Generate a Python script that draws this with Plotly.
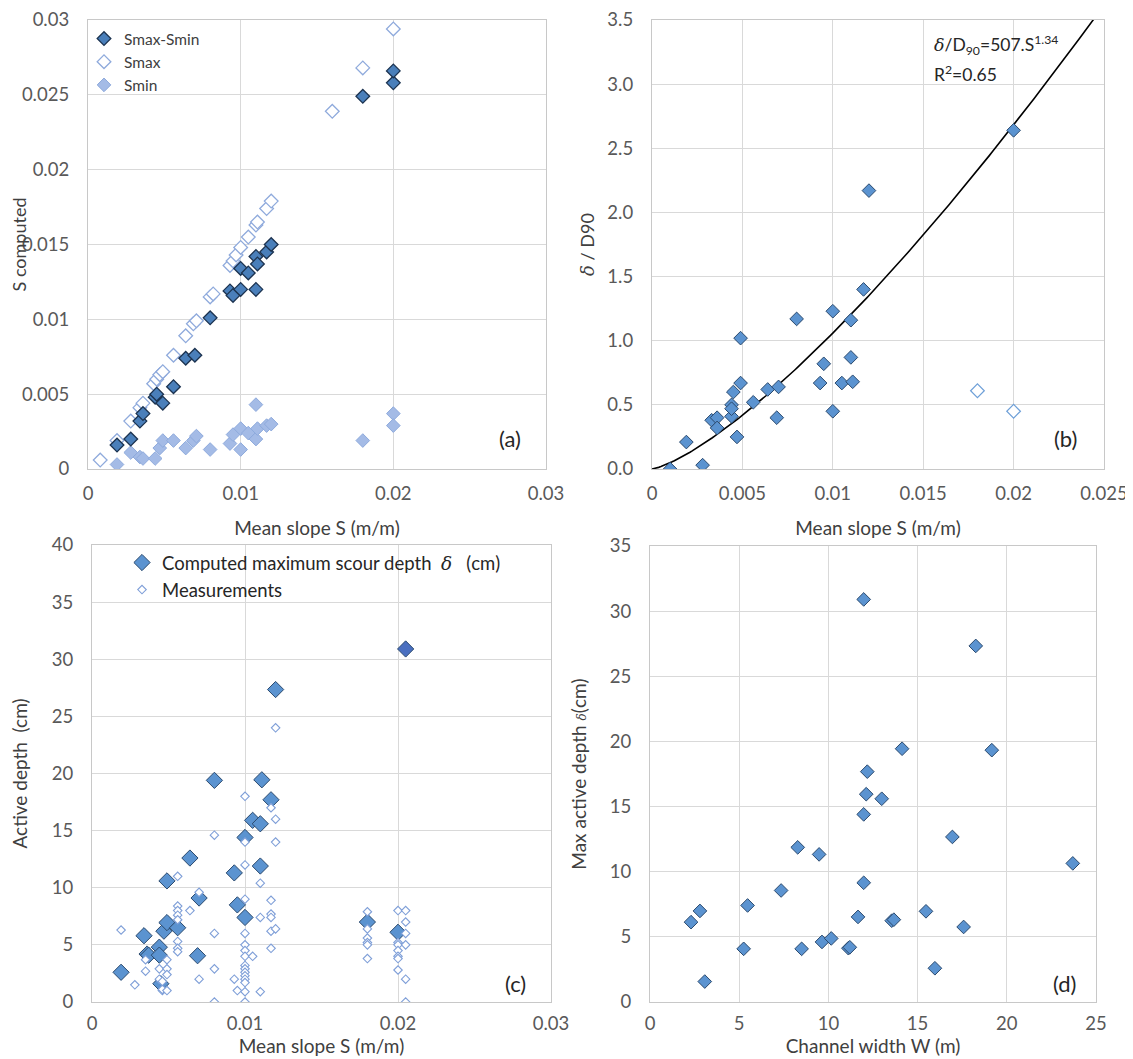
import numpy as np
import plotly.graph_objects as go

# ---------------- Panel (a) ----------------
a_x_diff = [0.0019, 0.0028, 0.0034, 0.0036, 0.0044, 0.0045, 0.0049, 0.0056, 0.0064, 0.0070,
            0.0080, 0.0093, 0.0095, 0.0100, 0.0100, 0.0105, 0.0110, 0.0110, 0.0111, 0.0117,
            0.0120, 0.0180, 0.0200, 0.0200]
a_y_diff = [0.0016, 0.0020, 0.0032, 0.0037, 0.0048, 0.0050, 0.0044, 0.0055, 0.0074, 0.0076,
            0.0101, 0.0119, 0.0116, 0.0120, 0.0134, 0.0131, 0.0120, 0.0142, 0.0137, 0.0145,
            0.0150, 0.0249, 0.0258, 0.0266]
a_x_max = [0.0008, 0.0019, 0.0028, 0.0034, 0.0036, 0.0043, 0.0045, 0.0047, 0.0049, 0.0056,
           0.0064, 0.0069, 0.0071, 0.0080, 0.0082, 0.0093, 0.0095, 0.0097, 0.0100, 0.0105,
           0.0110, 0.0111, 0.0117, 0.0120, 0.0160, 0.0180, 0.0200]
a_y_max = [0.0006, 0.0019, 0.0032, 0.0041, 0.0044, 0.0057, 0.0060, 0.0063, 0.0065, 0.0076,
           0.0089, 0.0097, 0.0099, 0.0115, 0.0117, 0.0136, 0.0139, 0.0143, 0.0148, 0.0155,
           0.0163, 0.0165, 0.0174, 0.0179, 0.0239, 0.0268, 0.0294]
a_x_min = [0.0019, 0.0028, 0.0034, 0.0036, 0.0044, 0.0047, 0.0049, 0.0056, 0.0064, 0.0069,
           0.0071, 0.0080, 0.0093, 0.0095, 0.0100, 0.0100, 0.0105, 0.0110, 0.0110, 0.0111,
           0.0117, 0.0120, 0.0180, 0.0200, 0.0200]
a_y_min = [0.0003, 0.0011, 0.0008, 0.0007, 0.0007, 0.0014, 0.0019, 0.0019, 0.0014, 0.0019,
           0.0022, 0.0013, 0.0017, 0.0023, 0.0013, 0.0027, 0.0024, 0.0020, 0.0043, 0.0027,
           0.0029, 0.0030, 0.0019, 0.0037, 0.0029]

# ---------------- Panel (b) ----------------
b_x = [0.0010, 0.0019, 0.0028, 0.0033, 0.0036, 0.0036, 0.0044, 0.0044, 0.0044, 0.0045,
       0.0047, 0.0049, 0.0049, 0.0056, 0.0064, 0.0069, 0.0070, 0.0080, 0.0093, 0.0095,
       0.0100, 0.0100, 0.0105, 0.0110, 0.0110, 0.0111, 0.0117, 0.0120, 0.0200]
b_y = [0.00, 0.21, 0.03, 0.38, 0.40, 0.32, 0.41, 0.50, 0.47, 0.60,
       0.25, 1.02, 0.67, 0.52, 0.62, 0.40, 0.64, 1.17, 0.67, 0.82,
       1.23, 0.45, 0.67, 1.16, 0.87, 0.68, 1.40, 2.17, 2.64]
b_x_out = [0.0180, 0.0200]
b_y_out = [0.61, 0.45]
# power-law trendline printed on the chart: delta/D90 = 507 * S^1.34
fit_coef = 507.0
fit_exp = 1.34
fit_s_max = 0.0246

# ---------------- Panel (c) ----------------
c_x_comp = [0.0019, 0.0034, 0.0036, 0.0037, 0.0044, 0.0044, 0.0045, 0.0047, 0.0049, 0.0049,
            0.0056, 0.0064, 0.0069, 0.0070, 0.0080, 0.0093, 0.0095, 0.0100, 0.0100, 0.0105,
            0.0110, 0.0110, 0.0111, 0.0117, 0.0120, 0.0180, 0.0200, 0.0205]
c_y_comp = [2.6, 5.8, 4.2, 4.1, 4.8, 4.1, 1.6, 6.2, 10.6, 6.95,
            6.5, 12.6, 4.05, 9.1, 19.4, 11.3, 8.5, 14.4, 7.4, 15.9,
            15.6, 11.9, 19.45, 17.7, 27.35, 7.0, 6.1, 30.9]
c_x_meas = ([0.0019, 0.0028, 0.0035, 0.0035, 0.0044, 0.0044, 0.0046, 0.0046, 0.0046,
             0.0049, 0.0049, 0.0049, 0.0049]
            + [0.0056] * 8 + [0.0064, 0.0070, 0.0070] + [0.0080] * 4 + [0.0093, 0.0095]
            + [0.0100] * 16 + [0.0105] + [0.0110] * 3 + [0.0117] * 6 + [0.0120] * 4
            + [0.0180] * 6 + [0.0200] * 7 + [0.0205] * 6)
c_y_meas = ([6.3, 1.5, 3.7, 2.7, 2.9, 2.0, 1.0, 1.1, 1.8,
             3.7, 2.9, 2.4, 1.0]
            + [11.0, 8.4, 8.0, 7.6, 7.2, 5.3, 4.7, 4.4] + [8.0, 9.6, 2.0] + [14.6, 6.0, 2.9, 0.0]
            + [2.0, 1.0]
            + [18.0, 14.0, 12.0, 9.0, 6.0, 5.0, 4.5, 4.0, 3.2, 2.9, 2.6, 2.3, 2.0, 1.7, 0.9, 0.0]
            + [4.0] + [10.4, 7.4, 0.9] + [17.0, 8.9, 7.7, 7.4, 6.2, 4.7] + [24.0, 16.0, 14.0, 6.4]
            + [7.9, 6.4, 5.6, 5.2, 5.0, 3.8] + [8.0, 5.2, 5.0, 4.5, 4.0, 3.8, 2.8]
            + [8.0, 7.0, 6.0, 5.0, 2.0, 0.0])

# ---------------- Panel (d) ----------------
d_w = [2.3, 2.8, 3.07, 5.25, 5.47, 7.35, 8.28, 8.5, 9.48, 9.64,
       10.16, 11.12, 11.2, 11.66, 11.98, 11.98, 11.98, 12.12, 12.18, 12.99,
       13.55, 13.67, 14.13, 15.47, 15.97, 16.95, 17.58, 18.26, 19.16, 23.7]
d_depth = [6.13, 6.99, 1.57, 4.08, 7.41, 8.56, 11.87, 4.08, 11.33, 4.61,
           4.88, 4.13, 4.2, 6.53, 30.9, 9.15, 14.4, 15.95, 17.68, 15.6,
           6.24, 6.32, 19.44, 6.96, 2.59, 12.67, 5.76, 27.33, 19.33, 10.64]

FONT = "Lato"
TICK_COL = "#595959"
TITLE_COL = "#404040"
GRID = "#d9d9d9"
DELTA = "<span style='font-family:DejaVu Serif'><i>δ</i></span>"

fig = go.Figure()

# Panel a traces (dark series drawn last so it sits on top)
fig.add_trace(go.Scatter(x=a_x_max, y=a_y_max, mode="markers", name="Smax", legendrank=2,
                         marker=dict(symbol="diamond", size=10.5, color="white",
                                     line=dict(color="#8faadc", width=1.3)),
                         xaxis="x", yaxis="y", legend="legend"))
fig.add_trace(go.Scatter(x=a_x_min, y=a_y_min, mode="markers", name="Smin", legendrank=3,
                         marker=dict(symbol="diamond", size=10.5, color="#a4bbe6",
                                     line=dict(color="#8eaadc", width=1)),
                         xaxis="x", yaxis="y", legend="legend"))
fig.add_trace(go.Scatter(x=a_x_diff, y=a_y_diff, mode="markers", name="Smax-Smin", legendrank=1,
                         marker=dict(symbol="diamond", size=10.5, color="#4a7fba",
                                     line=dict(color="#1c3350", width=1.3)),
                         xaxis="x", yaxis="y", legend="legend"))

# Panel b traces
s_fit = np.linspace(0, fit_s_max, 200)
fig.add_trace(go.Scatter(x=s_fit, y=fit_coef * s_fit ** fit_exp, mode="lines",
                         line=dict(color="black", width=1.6), showlegend=False,
                         xaxis="x2", yaxis="y2"))
fig.add_trace(go.Scatter(x=b_x, y=b_y, mode="markers", showlegend=False,
                         marker=dict(symbol="diamond", size=10.5, color="#5b93d0",
                                     line=dict(color="#2b4a6e", width=1)),
                         xaxis="x2", yaxis="y2"))
fig.add_trace(go.Scatter(x=b_x_out, y=b_y_out, mode="markers", showlegend=False,
                         marker=dict(symbol="diamond", size=10.5, color="white",
                                     line=dict(color="#6fa0d8", width=1.2)),
                         xaxis="x2", yaxis="y2"))

# Panel c traces
c_colors = ["#5b93d0"] * (len(c_x_comp) - 1) + ["#4a6fc0"]
fig.add_trace(go.Scatter(x=c_x_comp, y=c_y_comp, mode="markers",
                         name="Computed maximum scour depth\u00a0\u00a0" + DELTA + "\u00a0\u00a0\u00a0(cm)",
                         marker=dict(symbol="diamond", size=12.5, color=c_colors,
                                     line=dict(color="#2b4a6e", width=1)),
                         xaxis="x3", yaxis="y3", legend="legend2"))
fig.add_trace(go.Scatter(x=c_x_meas, y=c_y_meas, mode="markers", name="Measurements",
                         marker=dict(symbol="diamond", size=6.5, color="white",
                                     line=dict(color="#7f9fd8", width=1.1)),
                         xaxis="x3", yaxis="y3", legend="legend2"))

# Panel d traces
fig.add_trace(go.Scatter(x=d_w, y=d_depth, mode="markers", showlegend=False,
                         marker=dict(symbol="diamond", size=10.5, color="#5b93d0",
                                     line=dict(color="#2b4a6e", width=1)),
                         xaxis="x4", yaxis="y4"))

# The page places the figure 8 px in from the window's top-left corner,
# so the figure is sized to the visible area and positions are shifted.
OFF = 8
W, H = 1133 - OFF, 1059 - OFF


def px(x):
    return (x - OFF) / W


def py(y):
    return 1 - (y - OFF) / H


def xd(l, r):
    return [px(l), px(r)]


def yd(t, b):
    return [py(b), py(t)]


def ax(domain, anchor, rng, dtick, title, standoff, label_gap, title_size=19, tickformat=None):
    d = dict(domain=domain, anchor=anchor, range=rng, dtick=dtick, tick0=0,
             automargin=False,
             showgrid=True, gridcolor=GRID, gridwidth=1,
             showline=True, linecolor="#c8c8c8", linewidth=1.2, mirror=True,
             zeroline=False, ticks="", ticklen=0,
             ticklabelstandoff=label_gap, ticklabeloverflow="allow",
             tickfont=dict(family=FONT, size=18.5, color=TICK_COL),
             title=dict(text=title, standoff=standoff,
                        font=dict(family=FONT, size=title_size, color=TITLE_COL)))
    if tickformat:
        d["tickformat"] = tickformat
    return d


fig.update_layout(
    width=W, height=H,
    margin=dict(l=0, r=0, t=0, b=0, autoexpand=False),
    paper_bgcolor="white", plot_bgcolor="white",
    font=dict(family=FONT, color=TITLE_COL),
    xaxis=ax(xd(88, 546), "y", [0, 0.03], 0.01, "Mean slope S (m/m)", 18, 8),
    yaxis=ax(yd(20, 469), "x", [0, 0.03], 0.005, "S computed", 5, 14, title_size=18),
    xaxis2=ax(xd(652, 1104), "y2", [0, 0.0250001], 0.005, "Mean slope S (m/m)", 18, 8),
    yaxis2=ax(yd(20, 469), "x2", [0, 3.5], 0.5, DELTA + " / D90", 8, 14, title_size=18,
              tickformat=".1f"),
    xaxis3=ax(xd(92, 551), "y3", [0, 0.03], 0.01, "Mean slope S (m/m)", 6, 5),
    yaxis3=ax(yd(545, 1002), "x3", [0, 40], 5, "Active depth\u00a0\u00a0(cm)", 20, 14),
    xaxis4=ax(xd(650, 1096), "y4", [0, 25], 5, "Channel width W (m)", 6, 5),
    yaxis4=ax(yd(546, 1002), "x4", [0, 35], 5,
              "Max active depth <span style='font-size:12px;font-family:DejaVu Serif'><i>δ</i></span>(cm)",
              18, 14),
    legend=dict(x=px(84), y=py(22), xanchor="left", yanchor="top",
                bgcolor="rgba(0,0,0,0)", font=dict(family=FONT, size=15.5, color="#404040"),
                tracegroupgap=0, itemwidth=30, traceorder="normal"),
    legend2=dict(x=px(122), y=py(544), xanchor="left", yanchor="top",
                 bgcolor="rgba(0,0,0,0)", font=dict(family=FONT, size=18.5, color="#262626"),
                 tracegroupgap=0, itemwidth=30),
    hovermode=False,
    showlegend=True,
)

annots = [
    dict(text="(a)", x=510, y=438),
    dict(text="(b)", x=1065, y=438),
    dict(text="(c)", x=515, y=983),
    dict(text="(d)", x=1064, y=983),
]
for a in annots:
    fig.add_annotation(xref="paper", yref="paper", x=px(a["x"]), y=py(a["y"]), text=a["text"],
                       showarrow=False, xanchor="center", yanchor="middle",
                       font=dict(family=FONT, size=22, color="#262626"))

fig.add_annotation(xref="paper", yref="paper", x=px(932), y=py(45),
                   text=DELTA + "/D<sub>90</sub>=507.S<sup>1.34</sup>", showarrow=False,
                   xanchor="left", yanchor="middle",
                   font=dict(family=FONT, size=17.5, color="#262626"))
fig.add_annotation(xref="paper", yref="paper", x=px(932), y=py(73),
                   text="R<sup>2</sup>=0.65", showarrow=False,
                   xanchor="left", yanchor="middle",
                   font=dict(family=FONT, size=17.5, color="#262626"))

fig.write_html("out.html")
